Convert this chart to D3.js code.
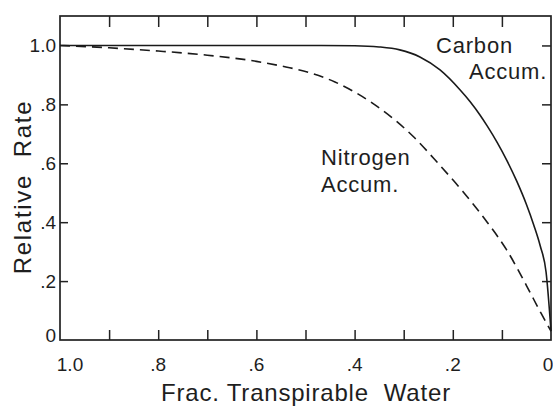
<!DOCTYPE html>
<head>
    <meta charset="utf-8">
    <script src="https://d3js.org/d3.v7.min.js"></script>
    <style>
        body {
            margin: 0;
            background: #fff;
        }
        svg text {
            font-family: "Liberation Sans", Arial, sans-serif;
            fill: #1e1e1e;
        }
        .frame {
            fill: none;
            stroke: #222;
            stroke-width: 1.7px;
        }
        .tick line {
            stroke: #222;
            stroke-width: 1.5px;
        }
        .domain {
            display: none;
        }
        .curve {
            fill: none;
            stroke: #1a1a1a;
            stroke-width: 1.6px;
        }
        .nitro {
            stroke-dasharray: 10,6;
        }
    </style>
</head>

<body>
<div id="vis"></div>

<script>
    // x runs from 1.0 down to 0
    var carbonX = [1.0, 0.7, 0.5, 0.4, 0.35, 0.308, 0.267, 0.226, 0.185, 0.165, 0.145, 0.13, 0.11, 0.09, 0.07, 0.05, 0.035, 0.022, 0.01, 0.0];
    var carbonY = [1.0, 1.0, 1.0, 0.999, 0.995, 0.985, 0.961, 0.917, 0.849, 0.81, 0.765, 0.727, 0.672, 0.61, 0.54, 0.46, 0.39, 0.32, 0.23, 0.03];

    var nitroX = [1.0, 0.9, 0.8, 0.7, 0.6, 0.54, 0.49, 0.44, 0.40, 0.36, 0.32, 0.28, 0.23, 0.18, 0.13, 0.09, 0.05, 0.02, 0.0];
    var nitroY = [1.0, 0.992, 0.981, 0.967, 0.946, 0.927, 0.907, 0.876, 0.842, 0.80, 0.75, 0.69, 0.60, 0.505, 0.40, 0.305, 0.185, 0.09, 0.03];

    var xTicks = [0.9, 0.8, 0.7, 0.6, 0.5, 0.4, 0.3, 0.2, 0.1];
    var xLabels = [1.0, 0.8, 0.6, 0.4, 0.2, 0];
    var xLabelText = ["1.0", ".8", ".6", ".4", ".2", "0"];
    var yTicks = [0.2, 0.4, 0.6, 0.8, 1.0];
    var yLabels = [0, 0.2, 0.4, 0.6, 0.8, 1.0];
    var yLabelText = ["0", ".2", ".4", ".6", ".8", "1.0"];

    var W = 553, H = 410;
    var pLeft = 60, pRight = 551, pTop = 16, pBottom = 340;

    var x = d3.scaleLinear().domain([1, 0]).range([pLeft, pRight]);
    var y = d3.scaleLinear().domain([0, 1.1]).range([pBottom, pTop]);

    var svg = d3.select("#vis")
        .append("svg")
        .attr("width", W)
        .attr("height", H);

    ////////// ticks //////////
    svg.append("g")
        .attr("transform", "translate(0," + pBottom + ")")
        .call(d3.axisBottom(x).tickValues(xTicks).tickSize(-10).tickFormat(""));

    svg.append("g")
        .attr("transform", "translate(0," + pTop + ")")
        .call(d3.axisTop(x).tickValues(xTicks).tickSize(-11).tickFormat(""));

    svg.append("g")
        .attr("transform", "translate(" + pLeft + ",0)")
        .call(d3.axisLeft(y).tickValues(yTicks.slice(0, 4)).tickSize(-8).tickFormat(""));

    svg.append("g")
        .attr("transform", "translate(" + pRight + ",0)")
        .call(d3.axisRight(y).tickValues(yTicks).tickSize(-9).tickFormat(""));

    svg.append("rect")
        .attr("class", "frame")
        .attr("x", pLeft)
        .attr("y", pTop)
        .attr("width", pRight - pLeft)
        .attr("height", pBottom - pTop);

    ////////// tick labels //////////
    svg.selectAll(".xlab")
        .data(xLabels)
        .enter()
        .append("text")
        .attr("class", "xlab")
        .attr("x", function(d, i) { return i == 0 ? x(d) + 10 : (i == 5 ? x(d) - 3 : x(d)); })
        .attr("y", 371)
        .attr("text-anchor", "middle")
        .style("font-size", "19px")
        .text(function(d, i) { return xLabelText[i]; });

    svg.selectAll(".ylab")
        .data(yLabels)
        .enter()
        .append("text")
        .attr("class", "ylab")
        .attr("x", 56)
        .attr("y", function(d) { return d == 0 ? y(d) + 2 : y(d) + 7; })
        .attr("text-anchor", "end")
        .style("font-size", "19px")
        .text(function(d, i) { return yLabelText[i]; });

    ////////// axis titles //////////
    svg.append("text")
        .attr("x", 306)
        .attr("y", 401)
        .attr("text-anchor", "middle")
        .style("font-size", "24px")
        .style("letter-spacing", "0.8px")
        .attr("xml:space", "preserve")
        .text("Frac. Transpirable  Water");

    svg.append("text")
        .attr("transform", "translate(31,187) rotate(-90)")
        .attr("text-anchor", "middle")
        .style("font-size", "24px")
        .style("letter-spacing", "1.7px")
        .attr("xml:space", "preserve")
        .text("Relative  Rate");

    ////////// curves //////////
    var line = d3.line()
        .x(function(d) { return x(d[0]); })
        .y(function(d) { return y(d[1]); })
        .curve(d3.curveMonotoneX);

    svg.append("path")
        .attr("class", "curve")
        .attr("d", line(d3.zip(carbonX, carbonY)));

    svg.append("path")
        .attr("class", "curve nitro")
        .attr("d", line(d3.zip(nitroX, nitroY)));

    ////////// curve labels //////////
    var lab = svg.append("g").style("font-size", "22px").style("letter-spacing", "0.8px");
    lab.append("text").attr("x", 436).attr("y", 53).text("Carbon");
    lab.append("text").attr("x", 469).attr("y", 79).text("Accum.");
    lab.append("text").attr("x", 321).attr("y", 165).text("Nitrogen");
    lab.append("text").attr("x", 321).attr("y", 192).text("Accum.");
</script>
</body>
